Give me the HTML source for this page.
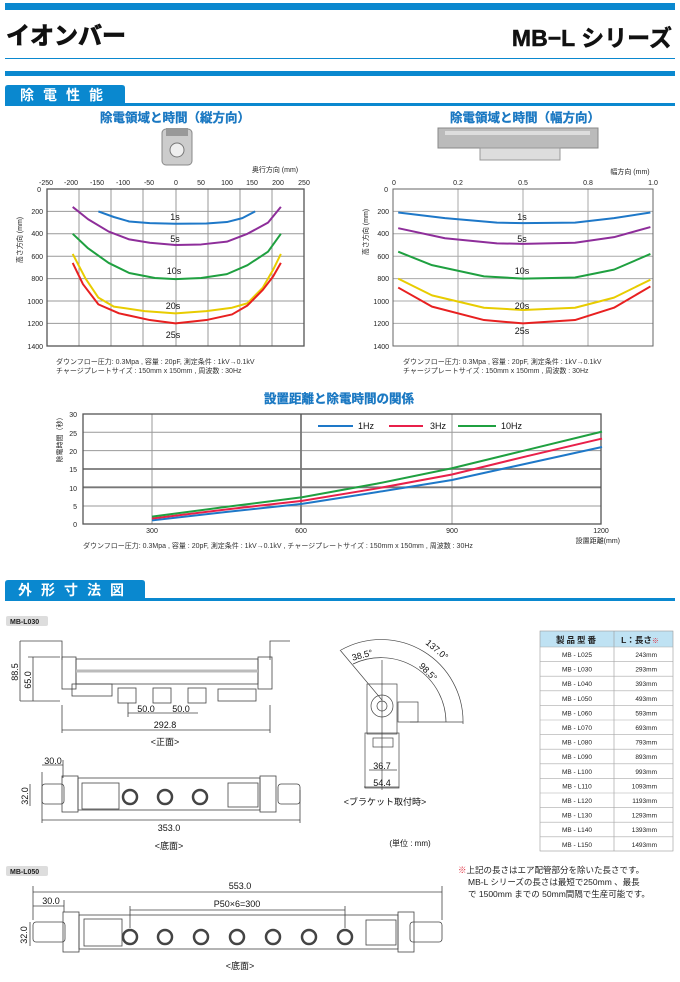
<!DOCTYPE html>
<html><head><meta charset="utf-8"><style>
body{margin:0;background:#fff;}
svg{display:block;font-family:"Liberation Sans","Noto Sans CJK JP",sans-serif;}
</style></head><body>
<svg width="680" height="982" viewBox="0 0 680 982" xmlns="http://www.w3.org/2000/svg">
<!-- header -->
<rect x="5" y="3" width="670" height="7" fill="#0a88cf"/>
<text x="6" y="44" font-size="24" font-weight="bold" fill="#111" stroke="#111" stroke-width="0.8">イオンバー</text>
<text x="672" y="46" font-size="23" font-weight="bold" fill="#111" stroke="#111" stroke-width="0.5" text-anchor="end">MB−L シリーズ</text>
<rect x="5" y="58" width="670" height="1" fill="#0a88cf"/>
<rect x="5" y="71" width="670" height="5" fill="#0a88cf"/>
<!-- section 1 tab -->
<path d="M5 103 V88 Q5 85 8 85 H122 Q125 85 125 88 V103 Z" fill="#0a88cf"/>
<text x="20" y="100" font-size="14" font-weight="bold" fill="#fff" letter-spacing="9">除電性能</text>
<rect x="5" y="103" width="670" height="3" fill="#0a88cf"/>
<text x="175" y="122" font-size="12.5" font-weight="bold" fill="#1a78c2" stroke="#1a78c2" stroke-width="0.3" text-anchor="middle">除電領域と時間（縦方向）</text>
<text x="525" y="122" font-size="12.5" font-weight="bold" fill="#1a78c2" stroke="#1a78c2" stroke-width="0.3" text-anchor="middle">除電領域と時間（幅方向）</text>
<!-- device icons -->
<rect x="162" y="129" width="30" height="36" rx="4" fill="#ccc" stroke="#888"/>
<circle cx="177" cy="150" r="7" fill="#eee" stroke="#777"/>
<rect x="166" y="128" width="22" height="8" fill="#999"/>
<rect x="438" y="128" width="160" height="20" fill="#bbb" stroke="#888"/>
<rect x="445" y="131" width="145" height="4" fill="#ddd"/>
<rect x="480" y="148" width="80" height="12" fill="#ddd" stroke="#999"/>

<!-- left chart -->
<g font-size="7" fill="#222">
<text x="275" y="172" text-anchor="middle">奥行方向 (mm)</text>
<g text-anchor="middle">
<text x="46" y="185">-250</text><text x="71" y="185">-200</text><text x="97" y="185">-150</text><text x="123" y="185">-100</text><text x="149" y="185">-50</text><text x="176" y="185">0</text><text x="201" y="185">50</text><text x="227" y="185">100</text><text x="252" y="185">150</text><text x="278" y="185">200</text><text x="304" y="185">250</text>
</g>
<g text-anchor="end">
<text x="41" y="192">0</text><text x="43" y="214">200</text><text x="43" y="236">400</text><text x="43" y="259">600</text><text x="43" y="281">800</text><text x="43" y="304">1000</text><text x="43" y="326">1200</text><text x="43" y="349">1400</text>
</g>
<text transform="translate(22,240) rotate(-90)" text-anchor="middle">高さ方向 (mm)</text>
</g>
<g stroke="#999" stroke-width="1">
<line x1="79" y1="189" x2="79" y2="346"/><line x1="111" y1="189" x2="111" y2="346"/><line x1="143" y1="189" x2="143" y2="346"/><line x1="176" y1="189" x2="176" y2="346"/><line x1="208" y1="189" x2="208" y2="346"/><line x1="240" y1="189" x2="240" y2="346"/><line x1="272" y1="189" x2="272" y2="346"/>
<line x1="47" y1="211.4" x2="304" y2="211.4"/><line x1="47" y1="233.8" x2="304" y2="233.8"/><line x1="47" y1="256.2" x2="304" y2="256.2"/><line x1="47" y1="278.6" x2="304" y2="278.6"/><line x1="47" y1="301" x2="304" y2="301"/><line x1="47" y1="323.4" x2="304" y2="323.4"/>
</g>
<rect x="47" y="189" width="257" height="157" fill="none" stroke="#555" stroke-width="1.3"/>
<g transform="translate(175.5,189) scale(0.514,0.112)" fill="none" stroke-width="2" stroke-linejoin="round">
<polyline vector-effect="non-scaling-stroke" stroke="#1e78c8" points="-150,200 -120,250 -90,290 -50,305 0,310 60,308 100,295 130,260 155,200"/>
<polyline vector-effect="non-scaling-stroke" stroke="#8e2e9a" points="-200,160 -170,270 -130,380 -90,450 -50,480 0,500 50,495 100,470 140,400 180,300 205,160"/>
<polyline vector-effect="non-scaling-stroke" stroke="#1fa040" points="-200,400 -170,530 -130,660 -90,750 -40,795 0,805 50,795 100,760 140,680 180,560 205,400"/>
<polyline vector-effect="non-scaling-stroke" stroke="#e8cc00" points="-200,580 -175,800 -150,970 -120,1050 -60,1090 0,1110 60,1090 110,1060 140,1020 170,880 190,720 205,580"/>
<polyline vector-effect="non-scaling-stroke" stroke="#e82020" points="-200,660 -180,850 -150,1030 -110,1110 -50,1170 0,1200 60,1170 110,1120 140,1040 170,900 190,780 205,660"/>
</g>
<g font-size="9" fill="#111" text-anchor="middle">
<text x="175" y="220">1s</text><text x="175" y="242">5s</text><text x="174" y="274">10s</text><text x="173" y="309">20s</text><text x="173" y="338">25s</text>
</g>
<text x="56" y="364" font-size="7" fill="#333">ダウンフロー圧力: 0.3Mpa , 容量 : 20pF, 測定条件 : 1kV→0.1kV</text>
<text x="56" y="373" font-size="7" fill="#333">チャージプレートサイズ : 150mm x 150mm , 周波数 : 30Hz</text>

<!-- right chart -->
<g font-size="7" fill="#222">
<text x="630" y="174" text-anchor="middle">幅方向 (mm)</text>
<g text-anchor="middle"><text x="394" y="185">0</text><text x="458" y="185">0.2</text><text x="523" y="185">0.5</text><text x="588" y="185">0.8</text><text x="653" y="185">1.0</text></g>
<g text-anchor="end">
<text x="388" y="192">0</text><text x="389" y="214">200</text><text x="389" y="236">400</text><text x="389" y="259">600</text><text x="389" y="281">800</text><text x="389" y="304">1000</text><text x="389" y="326">1200</text><text x="389" y="349">1400</text>
</g>
<text transform="translate(368,232) rotate(-90)" text-anchor="middle">高さ方向 (mm)</text>
</g>
<g stroke="#aaa" stroke-width="1">
<line x1="458" y1="189" x2="458" y2="346"/><line x1="523" y1="189" x2="523" y2="346"/><line x1="588" y1="189" x2="588" y2="346"/>
<line x1="393" y1="211.4" x2="653" y2="211.4"/><line x1="393" y1="233.8" x2="653" y2="233.8"/><line x1="393" y1="256.2" x2="653" y2="256.2"/><line x1="393" y1="278.6" x2="653" y2="278.6"/><line x1="393" y1="301" x2="653" y2="301"/><line x1="393" y1="323.4" x2="653" y2="323.4"/>
</g>
<rect x="393" y="189" width="260" height="157" fill="none" stroke="#666" stroke-width="1"/>
<g transform="translate(393,189) scale(260,0.112)" fill="none" stroke-width="2" stroke-linejoin="round">
<polyline vector-effect="non-scaling-stroke" stroke="#1e78c8" points="0.02,210 0.2,260 0.4,300 0.5,305 0.7,300 0.85,260 0.99,210"/>
<polyline vector-effect="non-scaling-stroke" stroke="#8e2e9a" points="0.02,350 0.2,440 0.4,485 0.5,490 0.7,480 0.85,430 0.99,340"/>
<polyline vector-effect="non-scaling-stroke" stroke="#1fa040" points="0.02,560 0.15,680 0.35,780 0.5,800 0.7,790 0.85,720 0.99,580"/>
<polyline vector-effect="non-scaling-stroke" stroke="#e8cc00" points="0.02,800 0.15,950 0.35,1060 0.5,1080 0.7,1060 0.85,970 0.99,810"/>
<polyline vector-effect="non-scaling-stroke" stroke="#e82020" points="0.02,880 0.15,1050 0.35,1170 0.5,1200 0.7,1170 0.85,1060 0.99,870"/>
</g>
<g font-size="9" fill="#111" text-anchor="middle">
<text x="522" y="220">1s</text><text x="522" y="242">5s</text><text x="522" y="274">10s</text><text x="522" y="309">20s</text><text x="522" y="334">25s</text>
</g>
<text x="403" y="364" font-size="7" fill="#333">ダウンフロー圧力: 0.3Mpa , 容量 : 20pF, 測定条件 : 1kV→0.1kV</text>
<text x="403" y="373" font-size="7" fill="#333">チャージプレートサイズ : 150mm x 150mm , 周波数 : 30Hz</text>

<!-- bottom chart -->
<text x="339" y="403" font-size="12.5" font-weight="bold" fill="#1a78c2" stroke="#1a78c2" stroke-width="0.3" text-anchor="middle">設置距離と除電時間の関係</text>
<g stroke="#999" stroke-width="1">
<line x1="152" y1="414" x2="152" y2="524"/><line x1="452" y1="414" x2="452" y2="524"/>
<line x1="83" y1="432.3" x2="601" y2="432.3"/><line x1="83" y1="450.6" x2="601" y2="450.6"/><line x1="83" y1="506" x2="601" y2="506"/>
</g>
<g stroke="#777" stroke-width="1.8">
<line x1="301" y1="414" x2="301" y2="524"/><line x1="83" y1="469" x2="601" y2="469"/><line x1="83" y1="487.3" x2="601" y2="487.3"/>
</g>
<rect x="83" y="414" width="518" height="110" fill="none" stroke="#555" stroke-width="1.3"/>
<g transform="translate(2,524) scale(0.5,-3.667)" fill="none" stroke-width="2">
<polyline vector-effect="non-scaling-stroke" stroke="#1e78c8" points="300,1 450,3.3 600,5.5 750,8.7 900,12 1050,16.5 1200,21"/>
<polyline vector-effect="non-scaling-stroke" stroke="#e8204a" points="300,1.5 450,4 600,6.3 750,9.7 900,13.5 1050,18.5 1200,23.3"/>
<polyline vector-effect="non-scaling-stroke" stroke="#1fa040" points="300,2 450,4.7 600,7.3 750,11 900,15.2 1050,20.2 1200,25.2"/>
</g>
<g stroke-width="2"><line x1="318" y1="426" x2="353" y2="426" stroke="#1e78c8"/><line x1="389" y1="426" x2="423" y2="426" stroke="#e8204a"/><line x1="458" y1="426" x2="496" y2="426" stroke="#1fa040"/></g>
<g font-size="9" fill="#111"><text x="358" y="429">1Hz</text><text x="430" y="429">3Hz</text><text x="501" y="429">10Hz</text></g>
<g font-size="7" fill="#222" text-anchor="end">
<text x="77" y="417">30</text><text x="77" y="436">25</text><text x="77" y="454">20</text><text x="77" y="472">15</text><text x="77" y="491">10</text><text x="77" y="509">5</text><text x="77" y="527">0</text>
</g>
<text transform="translate(62,438) rotate(-90)" font-size="7" fill="#222" text-anchor="middle">除電時間（秒）</text>
<g font-size="7" fill="#222" text-anchor="middle"><text x="152" y="533">300</text><text x="301" y="533">600</text><text x="452" y="533">900</text><text x="601" y="533">1200</text></g>
<text x="620" y="543" font-size="7" fill="#222" text-anchor="end">設置距離(mm)</text>
<text x="83" y="548" font-size="7" fill="#333">ダウンフロー圧力: 0.3Mpa , 容量 : 20pF, 測定条件 : 1kV→0.1kV , チャージプレートサイズ : 150mm x 150mm , 周波数 : 30Hz</text>

<!-- section 2 tab -->
<path d="M5 598 V583 Q5 580 8 580 H142 Q145 580 145 583 V598 Z" fill="#0a88cf"/>
<text x="18" y="595" font-size="14" font-weight="bold" fill="#fff" letter-spacing="9">外形寸法図</text>
<rect x="5" y="598" width="670" height="3" fill="#0a88cf"/>

<!-- MB-L030 -->
<rect x="6" y="616" width="42" height="10" rx="2" fill="#ddd"/>
<text x="10" y="624" font-size="7" font-weight="bold" fill="#222">MB-L030</text>
<g fill="none" stroke="#444" stroke-width="0.8">
<polyline points="40,641 62,641 62,660"/><polyline points="270,660 270,641 290,641"/>
<rect x="62" y="657" width="14" height="32"/><rect x="258" y="657" width="14" height="32"/>
<rect x="76" y="659" width="182" height="25"/>
<line x1="76" y1="671" x2="258" y2="671" stroke="#bbb" stroke-width="3"/>
<rect x="72" y="684" width="40" height="12"/>
<rect x="118" y="688" width="18" height="15"/><rect x="153" y="688" width="18" height="15"/><rect x="188" y="688" width="18" height="15"/>
<rect x="218" y="689" width="38" height="12"/>
<line x1="20" y1="641" x2="40" y2="641"/><line x1="20" y1="701" x2="60" y2="701"/>
<line x1="20" y1="641" x2="20" y2="701"/><line x1="33" y1="657" x2="33" y2="701"/><line x1="28" y1="657" x2="60" y2="657"/>
<line x1="128" y1="703" x2="128" y2="717"/><line x1="128" y1="713" x2="198" y2="713"/>
<line x1="62" y1="730" x2="270" y2="730"/><line x1="62" y1="705" x2="62" y2="733"/><line x1="270" y1="705" x2="270" y2="733"/>
<rect x="42" y="784" width="22" height="20" rx="3"/><rect x="278" y="784" width="22" height="20" rx="3"/>
<rect x="62" y="776" width="16" height="36"/><rect x="260" y="776" width="16" height="36"/>
<rect x="78" y="778" width="182" height="32"/>
<rect x="82" y="783" width="37" height="26"/><rect x="228" y="783" width="30" height="24"/>
<circle cx="130" cy="797" r="7" stroke-width="2.5"/><circle cx="165" cy="797" r="7" stroke-width="2.5"/><circle cx="200" cy="797" r="7" stroke-width="2.5"/>
<line x1="42" y1="820" x2="300" y2="820"/><line x1="42" y1="772" x2="42" y2="823"/><line x1="300" y1="790" x2="300" y2="823"/>
<line x1="42" y1="765" x2="63" y2="765"/><line x1="63" y1="760" x2="63" y2="778"/>
<line x1="30" y1="784" x2="30" y2="806"/>
</g>
<g font-size="9" fill="#111" text-anchor="middle">
<text transform="translate(18,672) rotate(-90)">88.5</text>
<text transform="translate(31,680) rotate(-90)">65.0</text>
<text x="146" y="712">50.0</text><text x="181" y="712">50.0</text>
<text x="165" y="728">292.8</text>
<text x="165" y="745">&lt;正面&gt;</text>
<text x="53" y="764">30.0</text>
<text transform="translate(28,796) rotate(-90)">32.0</text>
<text x="169" y="831">353.0</text>
<text x="169" y="849">&lt;底面&gt;</text>
</g>

<!-- bracket view -->
<g fill="none" stroke="#444" stroke-width="0.7">
<path d="M341 650 A82 82 0 0 1 463 724"/>
<path d="M353 664 A65 65 0 0 1 446 722"/>
<line x1="382" y1="660" x2="382" y2="790"/>
<line x1="340" y1="650" x2="382" y2="700"/>
<rect x="367" y="684" width="30" height="50"/>
<circle cx="382" cy="706" r="11"/><circle cx="382" cy="706" r="5"/>
<rect x="365" y="733" width="34" height="55"/>
<rect x="373" y="738" width="20" height="9"/>
<line x1="369" y1="770" x2="397" y2="770"/>
<line x1="364" y1="787" x2="399" y2="787"/>
<rect x="398" y="702" width="20" height="20"/>
<line x1="410" y1="722" x2="463" y2="722"/>
</g>
<g font-size="9" fill="#111" text-anchor="middle">
<text transform="translate(363,658) rotate(-15)">38.5°</text>
<text transform="translate(435,652) rotate(40)">137.0°</text>
<text transform="translate(426,674) rotate(45)">98.5°</text>
<text x="382" y="769">36.7</text><text x="382" y="786">54.4</text>
<text x="385" y="805">&lt;ブラケット取付時&gt;</text>
<text x="410" y="846" font-size="8">(単位 : mm)</text>
</g>

<!-- table -->
<rect x="540" y="631" width="133" height="16" fill="#bfe2f3"/>
<g stroke="#999" stroke-width="0.6" fill="none">
<rect x="540" y="631" width="133" height="220"/>
<line x1="614" y1="631" x2="614" y2="851"/>
</g>
<g stroke="#aaa" stroke-width="0.6">
<line x1="540" y1="647" x2="673" y2="647"/><line x1="540" y1="661.6" x2="673" y2="661.6"/><line x1="540" y1="676.2" x2="673" y2="676.2"/><line x1="540" y1="690.8" x2="673" y2="690.8"/><line x1="540" y1="705.4" x2="673" y2="705.4"/><line x1="540" y1="720" x2="673" y2="720"/><line x1="540" y1="734.6" x2="673" y2="734.6"/><line x1="540" y1="749.2" x2="673" y2="749.2"/><line x1="540" y1="763.8" x2="673" y2="763.8"/><line x1="540" y1="778.4" x2="673" y2="778.4"/><line x1="540" y1="793" x2="673" y2="793"/><line x1="540" y1="807.6" x2="673" y2="807.6"/><line x1="540" y1="822.2" x2="673" y2="822.2"/><line x1="540" y1="836.8" x2="673" y2="836.8"/>
</g>
<text x="577" y="643" font-size="8.5" font-weight="bold" fill="#222" text-anchor="middle" letter-spacing="2">製品型番</text>
<text x="640" y="643" font-size="8.5" font-weight="bold" fill="#222" text-anchor="middle">L：長さ<tspan fill="#e03040" font-size="7">※</tspan></text>
<g font-size="6.5" fill="#222">
<g text-anchor="middle">
<text x="577" y="657">MB - L025</text><text x="577" y="671.6">MB - L030</text><text x="577" y="686.2">MB - L040</text><text x="577" y="700.8">MB - L050</text><text x="577" y="715.4">MB - L060</text><text x="577" y="730">MB - L070</text><text x="577" y="744.6">MB - L080</text><text x="577" y="759.2">MB - L090</text><text x="577" y="773.8">MB - L100</text><text x="577" y="788.4">MB - L110</text><text x="577" y="803">MB - L120</text><text x="577" y="817.6">MB - L130</text><text x="577" y="832.2">MB - L140</text><text x="577" y="846.8">MB - L150</text>
</g>
<g text-anchor="end">
<text x="657" y="657">243mm</text><text x="657" y="671.6">293mm</text><text x="657" y="686.2">393mm</text><text x="657" y="700.8">493mm</text><text x="657" y="715.4">593mm</text><text x="657" y="730">693mm</text><text x="657" y="744.6">793mm</text><text x="657" y="759.2">893mm</text><text x="657" y="773.8">993mm</text><text x="657" y="788.4">1093mm</text><text x="657" y="803">1193mm</text><text x="657" y="817.6">1293mm</text><text x="657" y="832.2">1393mm</text><text x="657" y="846.8">1493mm</text>
</g>
</g>
<g font-size="8.5" fill="#222">
<text x="458" y="873"><tspan fill="#e03040">※</tspan>上記の長さはエア配管部分を除いた長さです。</text>
<text x="468" y="885">MB-L シリーズの長さは最短で250mm 、最長</text>
<text x="468" y="897">で 1500mm までの 50mm間隔で生産可能です。</text>
</g>

<!-- MB-L050 -->
<rect x="6" y="866" width="42" height="10" rx="2" fill="#ddd"/>
<text x="10" y="874" font-size="7" font-weight="bold" fill="#222">MB-L050</text>
<g fill="none" stroke="#444" stroke-width="0.8">
<rect x="33" y="922" width="32" height="20" rx="3"/><rect x="410" y="922" width="32" height="20" rx="3"/>
<rect x="63" y="912" width="16" height="40"/><rect x="398" y="912" width="16" height="40"/>
<rect x="79" y="915" width="319" height="34"/>
<rect x="84" y="919" width="38" height="27"/><rect x="366" y="920" width="30" height="25"/>
<circle cx="130" cy="937" r="7" stroke-width="2.5"/><circle cx="165" cy="937" r="7" stroke-width="2.5"/><circle cx="201" cy="937" r="7" stroke-width="2.5"/><circle cx="237" cy="937" r="7" stroke-width="2.5"/><circle cx="273" cy="937" r="7" stroke-width="2.5"/><circle cx="309" cy="937" r="7" stroke-width="2.5"/><circle cx="345" cy="937" r="7" stroke-width="2.5"/>
<line x1="33" y1="892" x2="442" y2="892"/><line x1="33" y1="886" x2="33" y2="920"/><line x1="442" y1="886" x2="442" y2="920"/>
<line x1="33" y1="906" x2="64" y2="906"/><line x1="64" y1="900" x2="64" y2="912"/>
<line x1="130" y1="910" x2="345" y2="910"/><line x1="130" y1="906" x2="130" y2="928"/><line x1="345" y1="906" x2="345" y2="928"/>
<line x1="30" y1="922" x2="30" y2="946"/>
</g>
<g font-size="9" fill="#111" text-anchor="middle">
<text x="240" y="889">553.0</text>
<text x="51" y="904">30.0</text>
<text x="237" y="907">P50×6=300</text>
<text transform="translate(27,935) rotate(-90)">32.0</text>
<text x="240" y="969">&lt;底面&gt;</text>
</g>
</svg>
</body></html>
